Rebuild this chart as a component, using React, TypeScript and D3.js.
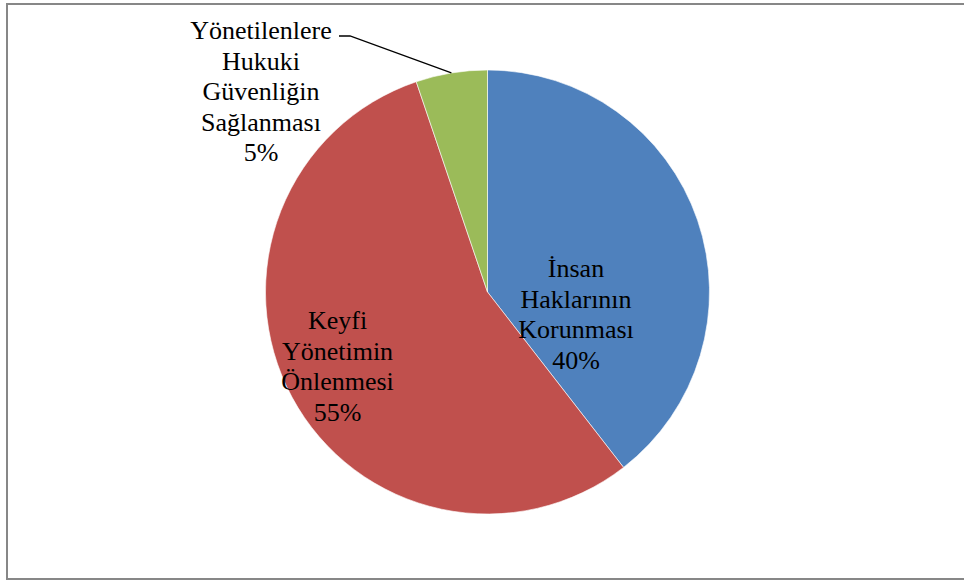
import { useEffect, useRef } from "react";
import * as d3 from "d3";

// slice data, clockwise from 12 o'clock
const categories = [
  ["İnsan", "Haklarının", "Korunması"],
  ["Keyfi", "Yönetimin", "Önlenmesi"],
  ["Yönetilenlere", "Hukuki", "Güvenliğin", "Sağlanması"],
];
const values = [39.5, 55.3, 5.2];
const colors = ["#4F81BD", "#C0504D", "#9BBB59"];

function App() {
  const ref = useRef<SVGSVGElement>(null);

  useEffect(() => {
    const svg = d3.select(ref.current);
    svg.selectAll("*").remove();
    const width = 964;
    const cx = 487.5;
    const cy = 292;
    const radius = 222;
    const total = d3.sum(values);

    svg
      .append("rect")
      .attr("x", 7)
      .attr("y", 4)
      .attr("width", width + 10)
      .attr("height", 575)
      .attr("fill", "#fff")
      .attr("stroke", "#878787")
      .attr("stroke-width", 2);

    const pie = d3.pie<number>().sort(null).value((d) => d);
    const arcs = pie(values);
    const arc = d3.arc<d3.PieArcDatum<number>>().innerRadius(0).outerRadius(radius);

    const g = svg.append("g").attr("transform", `translate(${cx},${cy})`);
    g.selectAll("path")
      .data(arcs)
      .enter()
      .append("path")
      .attr("d", arc)
      .attr("fill", (d, i) => colors[i])
      .attr("stroke", "#fff")
      .attr("stroke-width", 0.6);

    // label anchors (centre x, first baseline), relative to pie centre
    const labelPos = [
      [88.5, -15],
      [-150, 37],
      [-226.5, -253],
    ];
    const lineH = 30.6;

    arcs.forEach((a, i) => {
      const lines = [...categories[i], `${Math.round((values[i] / total) * 100)}%`];
      const t = g
        .append("text")
        .attr("text-anchor", "middle")
        .attr("font-family", "'Liberation Serif', 'Times New Roman', serif")
        .attr("font-size", 26)
        .attr("fill", "#000");
      lines.forEach((l, j) => {
        t.append("tspan")
          .attr("x", labelPos[i][0])
          .attr("y", labelPos[i][1] + j * lineH)
          .text(l);
      });
    });

    // leader line for the small slice
    const small = arcs[2];
    const mid = (small.startAngle + small.endAngle) / 2;
    const ex = Math.sin(mid) * radius;
    const ey = -Math.cos(mid) * radius;
    const lx = labelPos[2][0] + 78;
    const ly = labelPos[2][1] - 3;
    g.append("path")
      .attr("d", `M${lx},${ly}L${lx + 11},${ly}L${ex},${ey}`)
      .attr("fill", "none")
      .attr("stroke", "#000")
      .attr("stroke-width", 1.3);
  }, []);

  return (
    <svg
      ref={ref}
      width={964}
      height={581}
      style={{ position: "absolute", left: 0, top: 0 }}
    ></svg>
  );
}

export default App;
